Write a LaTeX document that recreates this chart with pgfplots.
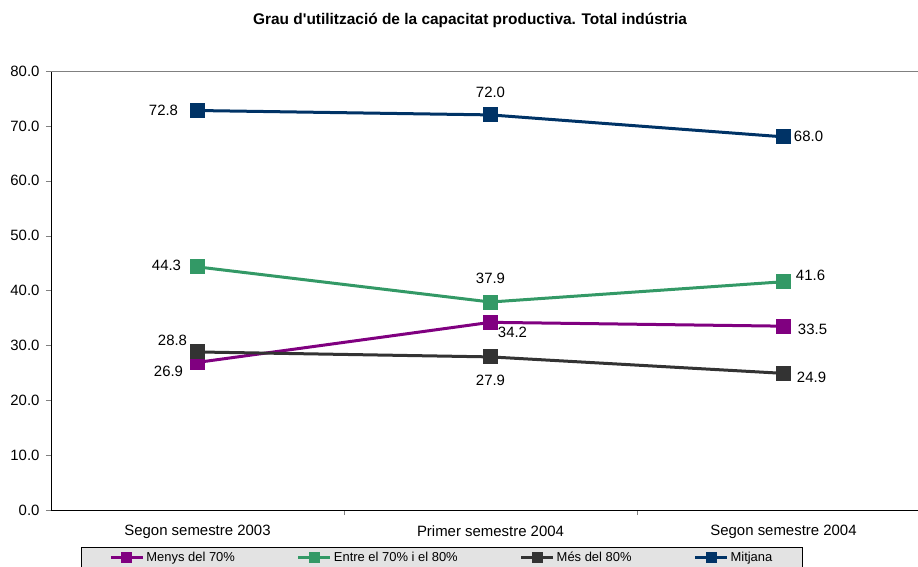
\documentclass[border=0pt]{standalone}
\usepackage{pgfplots}
\pgfplotsset{compat=1.18}
\usepackage{pgfplotstable}
\usepackage{fontspec}
\setmainfont{Liberation Sans}

\definecolor{cMenys}{HTML}{800080}
\definecolor{cEntre}{HTML}{339966}
\definecolor{cMes}{HTML}{333333}
\definecolor{cMitj}{HTML}{003366}

% x y dx dy  (dx, dy: label offset from the point, in bp)
\pgfplotstableread{
x y dx dy
0 26.9 -29 -9
1 34.2 22 -10
2 33.5 29 -3
}\menys
\pgfplotstableread{
x y dx dy
0 44.3 -31 2
1 37.9 0 24
2 41.6 27 6
}\entre
\pgfplotstableread{
x y dx dy
0 28.8 -25 12
1 27.9 0 -23
2 24.9 28 -4
}\mes
\pgfplotstableread{
x y dx dy
0 72.8 -34 0
1 72.0 0 23
2 68.0 25 0
}\mitjana

\begin{document}
\begin{tikzpicture}
\path[use as bounding box] (-51bp,-57bp) rectangle (867bp,510bp);
\clip (-51bp,-57bp) rectangle (867bp,510bp);
\begin{axis}[
    scale only axis,
    width=867bp, height=439bp,
    xmin=-0.5, xmax=2.459,
    ymin=0, ymax=80,
    axis x line*=bottom,
    axis y line*=left,
    axis line style={line width=0.8bp},
    tick align=outside,
    major tick length=5bp,
    minor tick length=5bp,
    xtick={0,1,2},
    xticklabels={Segon semestre 2003, Primer semestre 2004, Segon semestre 2004},
    major x tick style={draw=none},
    minor xtick={0.5,1.5},
    ytick={0,10,...,80},
    yticklabel style={xshift=-3bp, /pgf/number format/.cd,fixed,fixed zerofill,precision=1},
    /pgf/number format/assume math mode=true,
    ticklabel style={font=\fontsize{15}{17}\selectfont},
    xticklabel style={yshift=-7bp},
    nodes near coords={\pgfmathprintnumber[fixed,fixed zerofill,precision=1]{\pgfplotspointmeta}},
    visualization depends on={\thisrow{dx}\as\dx},
    visualization depends on={\thisrow{dy}\as\dy},
    every node near coord/.append style={anchor=center, text=black,
        xshift=\dx bp, yshift=\dy bp, font=\fontsize{15}{17}\selectfont},
    every axis plot/.append style={line width=3bp, mark=square*, mark size=6bp,
        mark options={solid}},
    legend columns=4,
    legend style={at={(axis description cs:0.0346,-0.0843)}, anchor=north west,
        fill=gray!22, draw=black, line width=0.8bp,
        font=\fontsize{13}{15}\selectfont,
        inner xsep=28bp, inner ysep=3bp,
        /tikz/every even column/.append style={column sep=60bp},
        cells={anchor=west}},
    legend image code/.code={
        \draw[mark repeat=2, mark phase=2, mark size=4bp, line width=3bp]
            plot coordinates {(0bp,0bp) (16bp,0bp) (32bp,0bp)};},
]
\draw[gray, line width=1bp] (rel axis cs:0,1) -- (rel axis cs:1,1);
\addplot[cMenys] table[x=x, y=y] {\menys};
\addplot[cEntre] table[x=x, y=y] {\entre};
\addplot[cMes] table[x=x, y=y] {\mes};
\addplot[cMitj] table[x=x, y=y] {\mitjana};
\legend{Menys del 70\%, Entre el 70\% i el 80\%, Més del 80\%, Mitjana}
\end{axis}
\node[font=\bfseries\fontsize{15.5}{18}\selectfont] at (419bp,490bp)
    {Grau d\textquotesingle utilització de la capacitat productiva. Total indústria};
\end{tikzpicture}
\end{document}
